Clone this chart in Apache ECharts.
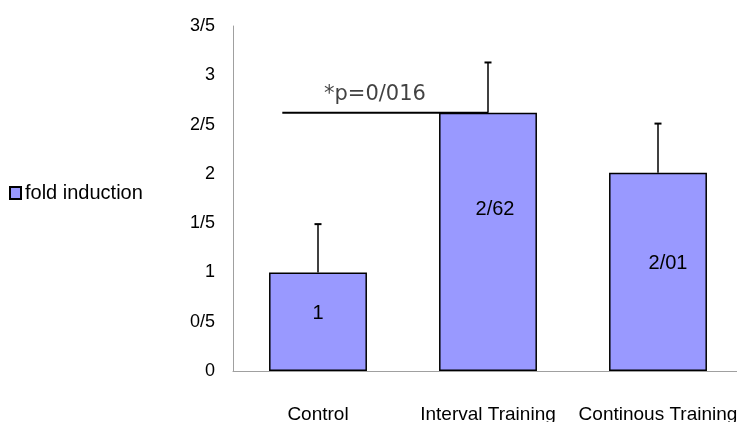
<!DOCTYPE html>
<html>
<head>
<meta charset="utf-8">
<script src="https://cdn.jsdelivr.net/npm/echarts@6/dist/echarts.min.js"></script>
<style>
html,body{margin:0;padding:0;background:#fff;}
#chart{width:737px;height:422px;}
</style>
</head>
<body>
<div id="chart"></div>
<script>
const categories = ['Control', 'Interval Training', 'Continous Training'];
const foldInduction = [1, 2.62, 2.01];
const valueLabels = ['1', '2/62', '2/01'];
const errorUpper = [1.49, 3.13, 2.51];
const yTickLabels = ['0', '0/5', '1', '1/5', '2', '2/5', '3', '3/5'];
const sigLineX = [-0.21, 1.0];
const sigLineY = 2.62;
const sigText = '*p=0/016';
const sigTextPos = [0.335, 2.80];

const SANS = '"Liberation Sans", Arial, sans-serif';
const labelOffsets = [[0, -8], [7, -32], [10, -8]];

const chart = echarts.init(document.getElementById('chart'));
chart.setOption({
  animation: false,
  backgroundColor: '#fff',
  legend: {
    orient: 'vertical',
    left: 4,
    top: 178,
    itemWidth: 11,
    itemHeight: 12,
    itemGap: 4,
    icon: 'rect',
    data: ['fold induction'],
    textStyle: { fontFamily: SANS, fontSize: 20, color: '#000', padding: [0, 0, 0, -1] }
  },
  grid: { left: 233, top: 26, width: 510, height: 345, containLabel: false, outerBoundsMode: 'none' },
  xAxis: [
    {
      type: 'category',
      data: categories,
      axisLine: { show: true, onZero: false, lineStyle: { color: '#a0a0a0', width: 1 } },
      axisTick: { show: false },
      axisLabel: { fontFamily: SANS, fontSize: 19, color: '#000', margin: 34, interval: 0 }
    },
    { type: 'value', min: -0.5, max: 2.5, show: false }
  ],
  yAxis: {
    type: 'value',
    min: 0, max: 3.5, interval: 0.5,
    splitLine: { show: false },
    axisLine: { show: true, onZero: false, lineStyle: { color: '#a0a0a0', width: 1 } },
    axisTick: { show: false },
    axisLabel: {
      fontFamily: SANS, fontSize: 18, color: '#000', margin: 18,
      formatter: v => yTickLabels[Math.round(v / 0.5)]
    }
  },
  series: [
    {
      name: 'fold induction',
      type: 'bar',
      barWidth: '57.6%',
      itemStyle: { color: '#9999FF', borderColor: '#000', borderWidth: 1.5 },
      data: foldInduction.map((v, i) => ({
        value: v,
        label: { offset: labelOffsets[i] }
      })),
      label: {
        show: true, position: 'inside',
        fontFamily: SANS, fontSize: 20, color: '#000',
        formatter: p => valueLabels[p.dataIndex]
      },
      z: 2
    },
    {
      name: 'error',
      type: 'custom',
      data: foldInduction.map((v, i) => [i, v, errorUpper[i]]),
      renderItem: (params, api) => {
        const base = api.coord([api.value(0), api.value(1)]);
        const top = api.coord([api.value(0), api.value(2)]);
        const half = 3.5;
        return {
          type: 'group',
          children: [
            { type: 'line', shape: { x1: base[0], y1: base[1], x2: top[0], y2: top[1] }, style: { stroke: '#000', lineWidth: 1.5 } },
            { type: 'line', shape: { x1: top[0] - half, y1: top[1], x2: top[0] + half, y2: top[1] }, style: { stroke: '#000', lineWidth: 2 } }
          ]
        };
      },
      z: 3
    },
    {
      name: 'sig',
      type: 'line',
      xAxisIndex: 1,
      symbol: 'none',
      lineStyle: { color: '#000', width: 2 },
      data: sigLineX.map(x => [x, sigLineY]),
      z: 4
    },
    {
      name: 'sigtext',
      type: 'scatter',
      xAxisIndex: 1,
      symbolSize: 0,
      data: [sigTextPos],
      label: {
        show: true, position: 'inside',
        formatter: sigText,
        fontFamily: '"DejaVu Sans", Verdana, sans-serif',
        fontSize: 21, color: '#111'
      },
      z: 5
    }
  ]
});
</script>
</body>
</html>
